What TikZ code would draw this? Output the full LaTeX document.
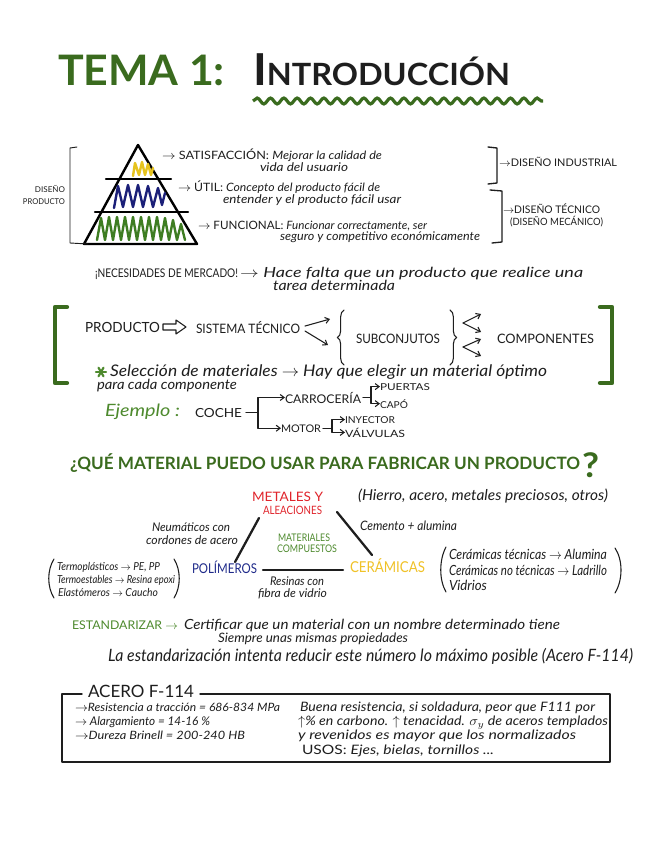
\documentclass[tikz,border=0pt]{standalone}
\usepackage{fontspec}
\setmainfont{Lato}
\usepackage{graphicx}
\usetikzlibrary{arrows.meta,decorations.pathmorphing,decorations.pathreplacing}
\definecolor{tgreen}{HTML}{3A6B1E}
\definecolor{lgreen}{HTML}{4E8A2E}
\definecolor{ink}{HTML}{1E1E1E}
\definecolor{mred}{HTML}{E0242B}
\definecolor{mblue}{HTML}{1F2A8A}
\definecolor{mgold}{HTML}{F0C228}
\definecolor{pyel}{HTML}{E6C31E}
\definecolor{pblue}{HTML}{1B1F78}
\definecolor{pgreen}{HTML}{3E7D22}
\newlength\fwlen
\newlength\fslen
% #1 width in px, #2 font size (em) in px, #3 text
\newcommand\fw[3]{\setlength\fwlen{#1pt}\setlength\fwlen{0.75\fwlen}%
  \setlength\fslen{#2pt}\setlength\fslen{0.75\fslen}%
  \resizebox{\fwlen}{\height}{\fontsize{\fslen}{\fslen}\selectfont #3}}
\newcommand\myra{$\rightarrow$}
\begin{document}
\begin{tikzpicture}[x=0.75pt,y=-0.75pt,
  t/.style={inner sep=0pt,outer sep=0pt,anchor=base west,text=ink},
  te/.style={t,anchor=base east},
  pen/.style={draw=ink,line width=0.8pt,line cap=round,line join=round},
  arr/.style={pen,-{Straight Barb[length=3pt,width=4.5pt]}},
  mline/.style={draw=ink,line width=1.7pt,line cap=round},
  gbr/.style={draw=tgreen,line width=3.2pt,line cap=round,line join=round},
  scrib/.style={line width=1.8pt,line cap=round,line join=round},
  pyr/.style={draw=black,line width=1.8pt,line cap=round,line join=round}]
\fill[white] (0,0) rectangle (655,848);
\useasboundingbox (0,0) rectangle (655,848);

% ---------- title
\node[t,text=tgreen] (tema) at (58,86) {\fw{167}{42}{\bfseries TEMA 1:}};
\node[t] (intro) at (253,86) {\fw{257}{44}{\bfseries I\fontsize{23}{23}\selectfont NTRODUCCIÓN}};
\draw[tgreen,line width=2.4pt,decorate,decoration={snake,segment length=10pt,amplitude=2.2pt}] (253,101) -- (543,101);

% ---------- pyramid
\draw[pyr] (138,145) -- (197,244) -- (84,244) -- cycle;
\draw[pyr] (106,179) -- (171,179);
\draw[pyr] (95,212) -- (188,212);
\draw[scrib,pyel] (133,176) -- (135,163) -- (139,175) -- (142,162) -- (145,175) -- (148,164) -- (151,175) -- (153,168);
\draw[scrib,pblue] (114,208) -- (118,186) -- (123,207) -- (128,185) -- (133,207) -- (138,185) -- (143,207) -- (148,186) -- (153,207) -- (158,188) -- (162,205) -- (165,193);
\draw[scrib,pgreen] (97,240) -- (101,218) -- (105,240) -- (109,217) -- (113,240) -- (117,217) -- (121,240) -- (125,217) -- (129,240) -- (133,217) -- (137,240) -- (141,217) -- (145,240) -- (149,217) -- (153,240) -- (157,217) -- (161,240) -- (165,218) -- (169,240) -- (173,220) -- (177,240) -- (181,224) -- (185,240);

\draw[pen,line width=0.7pt] (77,147) -- (70,148) -- (70,243) -- (88,244);
\node[te] (dis) at (65,193) {\fw{30}{8}{DISEÑO}};
\node[te] (dprod) at (65,205) {\fw{42}{8}{PRODUCTO}};

\node[t] (sat) at (162,160) {\fw{220}{11.5}{\myra\ SATISFACCIÓN: \itshape Mejorar la calidad de}};
\node[t] (sat2) at (260,172) {\fw{88}{12}{\itshape vida del usuario}};
\node[t] (util) at (178,192) {\fw{202}{11.5}{\myra\ ÚTIL: \itshape Concepto del producto fácil de}};
\node[t] (util2) at (223,204) {\fw{178}{12}{\itshape entender y el producto fácil usar}};
\node[t] (fun) at (198,230) {\fw{229}{11.5}{\myra\ FUNCIONAL: \itshape Funcionar correctamente, ser}};
\node[t] (fun2) at (280,241) {\fw{200}{12}{\itshape seguro y competitivo económicamente}};

\draw[pen,line width=1pt] (488,147) -- (497,148) -- (497,183) -- (488,184);
\node[t] (dind) at (499,167) {\fw{118}{10.5}{\myra DISEÑO INDUSTRIAL}};
\draw[pen,line width=1pt] (490,190) -- (502,191) -- (502,242) -- (492,243);
\node[t] (dtec) at (503,214) {\fw{97}{10.5}{\myra DISEÑO TÉCNICO}};
\node[t] (dmec) at (510,226) {\fw{93}{10}{(DISEÑO MECÁNICO)}};

% ---------- necesidades
\node[t] (nec) at (95,277) {\fw{143}{12}{¡NECESIDADES DE MERCADO!}};
\node[t] (nec2) at (240,277) {\fw{343}{14}{\myra\ \itshape Hace falta que un producto que realice una}};
\node[t] (nec3) at (273,291) {\fw{122}{14}{\itshape tarea determinada}};

% ---------- producto
\draw[gbr] (67,307) -- (55,307) -- (55,383) -- (67,383);
\draw[gbr] (600,307) -- (612,307) -- (612,383) -- (600,383);
\node[t] (prd) at (85,332) {\fw{75}{14}{PRODUCTO}};
\node[t] (sis) at (196,333) {\fw{104}{13}{SISTEMA TÉCNICO}};
\draw[pen] (prd.east) ++(3,-3) -- ++(13,0) -- ++(0,-4) -- ++(10,7) -- ++(-10,7) -- ++(0,-4) -- ++(-13,0) -- cycle;
\draw[arr] (sis.east) ++(5,-1) -- ++(25,-7);
\draw[arr] (sis.east) ++(5,4) -- ++(23,14);
\draw[pen,decorate,decoration={brace,amplitude=5pt}] (344,365) -- (344,310);
\node[t] (sub) at (356,343) {\fw{84}{13}{SUBCONJUTOS}};
\draw[pen,decorate,decoration={brace,amplitude=5pt}] (450,310) -- (450,365);
\coordinate (ua) at (463,323);
\coordinate (da) at (463,347);
\node[t] (comp) at (497,343) {\fw{97}{13}{COMPONENTES}};
\draw[arr] (ua) -- (481,314);
\draw[arr] (ua) -- (481,332);
\draw[arr] (da) -- (481,339);
\draw[arr] (da) -- (481,356);

\foreach \a in {0,60,120} \draw[lgreen,line width=1.6pt,line cap=round] (101,372) +(\a:5) -- +(\a+180:5);
\node[t] (sel) at (110,376) {\fw{437}{16}{\itshape Selección de materiales \myra\ Hay que elegir un material óptimo}};
\node[t] (cada) at (97,389) {\fw{140}{14}{\itshape para cada componente}};
\node[t,text=lgreen] (ej) at (105,416) {\fw{75}{17}{\itshape Ejemplo :}};
\node[t] (coche) at (195,417) {\fw{47}{12.5}{COCHE}};
\node[t] (carr) at (285,403) {\fw{76}{12}{CARROCERÍA}};
\node[t] (puer) at (380,390) {\fw{50}{9.5}{PUERTAS}};
\node[t] (capo) at (380,408) {\fw{28}{9.5}{CAPÓ}};
\node[t] (motor) at (281,432) {\fw{40}{10.5}{MOTOR}};
\node[t] (iny) at (345,423) {\fw{50}{9.5}{INYECTOR}};
\node[t] (val) at (345,437) {\fw{60}{10}{VÁLVULAS}};
\draw[pen] (coche.east) ++(4,0) -- ++(12,0) coordinate (cj);
\draw[arr] (cj) |- (carr.west);
\draw[arr] (cj) |- (motor.west);
\draw[pen] (carr.east) ++(2,0) -- ++(8,0) coordinate (kj);
\draw[arr] (kj) |- (puer.west);
\draw[arr] (kj) |- (capo.west);
\draw[pen] (motor.east) ++(2,0) -- ++(9,0) coordinate (mj);
\draw[arr] (mj) |- (iny.west);
\draw[arr] (mj) |- (val.west);

% ---------- question
\node[t,text=tgreen] (q) at (70,469) {\fw{510}{17}{\bfseries ¿QUÉ MATERIAL PUEDO USAR PARA FABRICAR UN PRODUCTO}};
\node[t,text=tgreen] (qm) at (582,477) {\fw{17}{34}{\bfseries ?}};

% ---------- materials
\node[t,text=mred] (met1) at (252,501) {\fw{71}{13}{METALES Y}};
\node[t,text=mred] (met2) at (263,514) {\fw{59}{11.5}{ALEACIONES}};
\node[t] (hie) at (358,500) {\fw{250}{15}{\itshape (Hierro, acero, metales preciosos, otros)}};
\node[t] (neu1) at (152,531) {\fw{78}{12}{\itshape Neumáticos con}};
\node[t] (neu2) at (146,544) {\fw{92}{12}{\itshape cordones de acero}};
\node[t,text=lgreen] (mc1) at (278,541) {\fw{52}{10.5}{MATERIALES}};
\node[t,text=lgreen] (mc2) at (277,552) {\fw{60}{10.5}{COMPUESTOS}};
\node[t] (cem) at (360,530) {\fw{97}{13}{\itshape Cemento + alumina}};
\node[t,text=mblue] (pol) at (192,573) {\fw{65}{13.5}{POLÍMEROS}};
\node[t,text=mgold] (cer) at (350,572) {\fw{75}{15}{CERÁMICAS}};
\node[t] (res1) at (270,585) {\fw{54}{12}{\itshape Resinas con}};
\node[t] (res2) at (258,597) {\fw{69}{12}{\itshape fibra de vidrio}};
\coordinate (mL1) at (259,518); \coordinate (mL2) at (235,562);
\coordinate (mR1) at (337,512); \coordinate (mR2) at (372,555);
\coordinate (mB1) at (263,570); \coordinate (mB2) at (343,570);
\draw[mline] (mL1) -- (mL2);
\draw[mline] (mR1) -- (mR2);
\draw[mline] (mB1) -- (mB2);

\draw[pen] (54,559) .. controls (47,570) and (47,587) .. (54,598);
\node[t] (tp) at (57,570) {\fw{103}{11}{\itshape Termoplásticos \myra\ PE, PP}};
\node[t] (tes) at (57,583) {\fw{118}{11}{\itshape Termoestables \myra\ Resina epoxi}};
\node[t] (el) at (58,596) {\fw{100}{11}{\itshape Elastómeros \myra\ Caucho}};
\draw[pen] (174,559) .. controls (181,570) and (181,587) .. (174,598);

\draw[pen] (446,547) .. controls (439,560) and (439,580) .. (446,592);
\node[t] (ct) at (449,559) {\fw{158}{14}{\itshape Cerámicas técnicas \myra\ Alumina}};
\node[t] (cnt) at (449,575) {\fw{158}{14}{\itshape Cerámicas no técnicas \myra\ Ladrillo}};
\node[t] (vid) at (449,590) {\fw{38}{14}{\itshape Vidrios}};
\draw[pen] (615,548) .. controls (623,560) and (623,580) .. (615,593);

% ---------- estandarizar
\node[t,text=lgreen] (est) at (72,629) {\fw{106}{12}{ESTANDARIZAR \myra}};
\node[t] (cert) at (184,629) {\fw{376}{14}{\itshape Certificar que un material con un nombre determinado tiene}};
\node[t] (siem) at (218,642) {\fw{190}{13}{\itshape Siempre unas mismas propiedades}};
\node[t] (lae) at (108,661) {\fw{525}{17}{\itshape La estandarización intenta reducir este número lo máximo posible (Acero F-114)}};

% ---------- box
\node[t] (acero) at (88,697) {\fw{106}{17}{ACERO F-114}};
\draw[pen,line width=1.1pt] (82,694) -- (62,694) -- (62,762) -- (610,762) -- (610,694) -- (200,694);
\node[t] (b1) at (75,711) {\fw{205}{11.5}{\itshape \myra Resistencia a tracción = 686-834 MPa}};
\node[t] (b2) at (75,725) {\fw{135}{12}{\itshape \myra\ Alargamiento = 14-16 \%}};
\node[t] (b3) at (75,739) {\fw{170}{11.5}{\itshape \myra Dureza Brinell = 200-240 HB}};
\node[t] (r1) at (300,711) {\fw{295}{13}{\itshape Buena resistencia, si soldadura, peor que F111 por}};
\node[t] (r2) at (298,725) {\fw{310}{13}{\itshape $\uparrow$\% en carbono. $\uparrow$ tenacidad. $\sigma_y$ de aceros templados}};
\node[t] (r3) at (298,739) {\fw{278}{13}{\itshape y revenidos es mayor que los normalizados}};
\node[t] (r4) at (302,754) {\fw{192}{13}{USOS: \itshape Ejes, bielas, tornillos ...}};
\end{tikzpicture}
\end{document}
